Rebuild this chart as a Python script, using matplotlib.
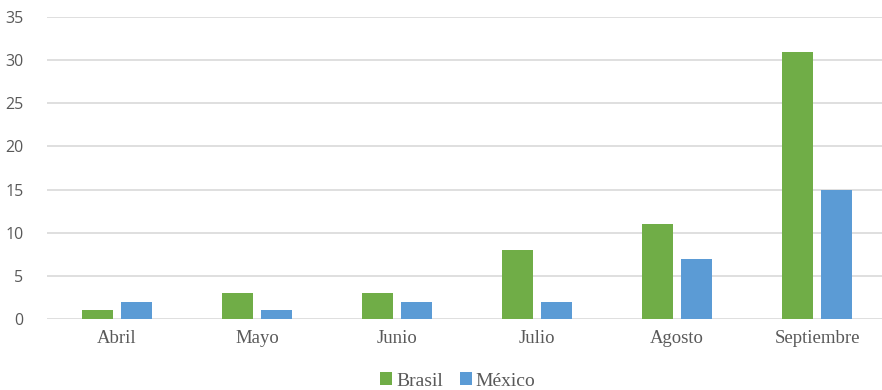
import matplotlib.pyplot as plt
import numpy as np

meses = ["Abril", "Mayo", "Junio", "Julio", "Agosto", "Septiembre"]
brasil = [1, 3, 3, 8, 11, 31]
mexico = [2, 1, 2, 2, 7, 15]

fig = plt.figure(figsize=(8.82, 3.9), dpi=100)
W, H = 882, 390
# plot area in pixels: left 47, right 887, top 17 (=35), bottom 319 (=0)
ax = fig.add_axes([47 / W, (H - 319) / H, 840 / W, (319 - 17) / H])

x = np.arange(len(meses))
bw = 0.225
ax.bar(x - 0.14, brasil, bw, color="#70AD47", label="Brasil", zorder=3)
ax.bar(x + 0.14, mexico, bw, color="#5B9BD5", label="México", zorder=3)

ax.set_xlim(-0.5, len(meses) - 0.5)
ax.set_ylim(0, 35)
ax.set_yticks(range(0, 36, 5))
ax.yaxis.grid(True, color="#D9D9D9", linewidth=1.2, zorder=0)
ax.set_axisbelow(True)
for s in ax.spines.values():
    s.set_visible(False)
ax.tick_params(length=0)
ax.tick_params(axis="y", pad=17, labelsize=11.5, labelcolor="#595959")
ax.set_xticks(x)
ax.set_xticklabels(meses, family="Liberation Serif", fontsize=13.5, color="#595959")
ax.tick_params(axis="x", pad=8)
for lab in ax.get_yticklabels():
    lab.set_family("Open Sans")

leg = fig.legend(loc="center", bbox_to_anchor=(458 / W, 1 - 381 / H), ncol=2,
                 frameon=False, prop={"family": "Liberation Serif", "size": 14},
                 handlelength=0.6, handleheight=0.6, handletextpad=0.2, columnspacing=0.9)
for t in leg.get_texts():
    t.set_color("#595959")

fig.savefig("out.png", dpi=100)
